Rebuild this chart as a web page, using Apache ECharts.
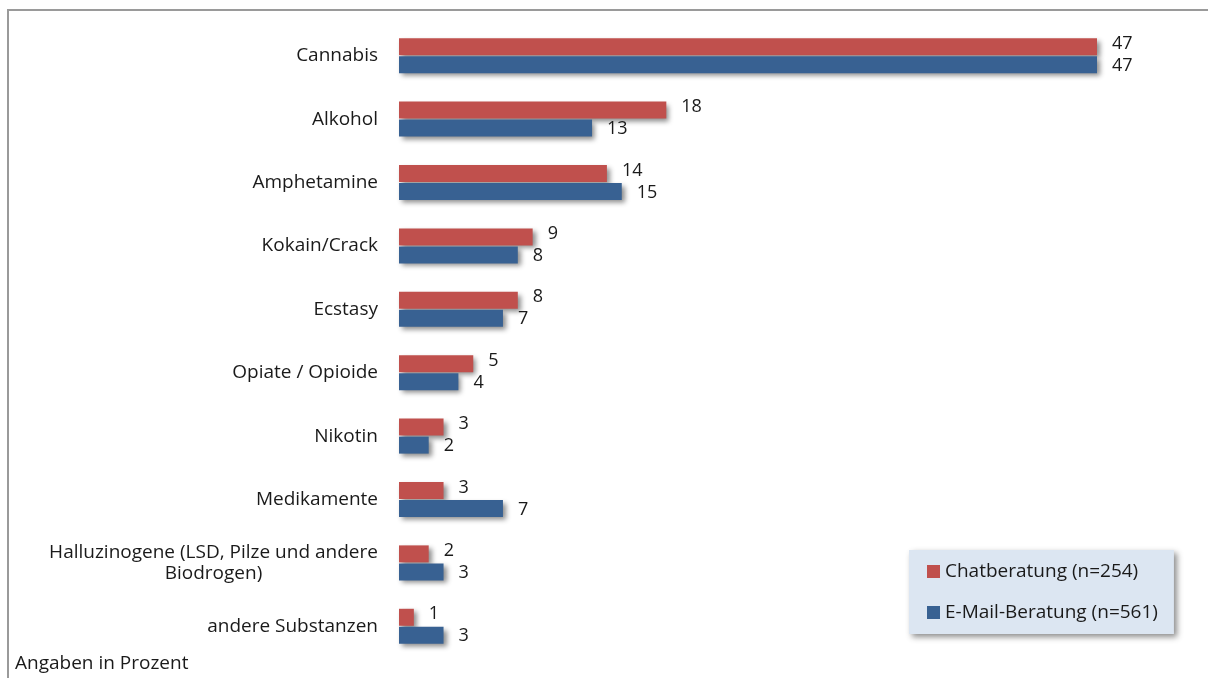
<!DOCTYPE html>
<html>
<head>
<meta charset="utf-8">
<script src="https://cdn.jsdelivr.net/npm/echarts@6/dist/echarts.min.js"></script>
<style>
  html, body { margin: 0; padding: 0; background: #fff; }
  #chart { width: 1208px; height: 678px; }
</style>
</head>
<body>
<div id="chart"></div>
<script>
// Kategorien (von oben nach unten)
var categories = ['Cannabis', 'Alkohol', 'Amphetamine', 'Kokain/Crack', 'Ecstasy',
  'Opiate / Opioide', 'Nikotin', 'Medikamente',
  'Halluzinogene (LSD, Pilze und andere\nBiodrogen)', 'andere Substanzen'];
// Werte in Prozent
var chatValues = [47, 18, 14, 9, 8, 5, 3, 3, 2, 1];
var mailValues = [47, 13, 15, 8, 7, 4, 2, 7, 3, 3];
var seriesNames = ['Chatberatung (n=254)', 'E-Mail-Beratung (n=561)'];

var fontFam = '"Open Sans", "Noto Sans", sans-serif';
var labelSize = 19;
var barShadow = {
  shadowColor: 'rgba(0,0,0,0.45)',
  shadowBlur: 5,
  shadowOffsetX: 3,
  shadowOffsetY: 3
};

// Breite der längsten Zeile messen, damit mehrzeilige Labels zentriert werden
var ctx = document.createElement('canvas').getContext('2d');
ctx.font = labelSize + 'px ' + fontFam;
function textWidth(s) { return Math.ceil(ctx.measureText(s).width); }

var myChart = echarts.init(document.getElementById('chart'));
var option = {
  animation: false,
  backgroundColor: '#fff',
  graphic: [
    {
      type: 'rect',
      shape: { x: 8, y: 10, width: 1260, height: 720 },
      style: { fill: 'none', stroke: '#9a9a9a', lineWidth: 2 },
      z: -1
    },
    {
      type: 'text',
      left: 15,
      top: 654,
      style: { text: 'Angaben in Prozent', font: labelSize + 'px ' + fontFam, fill: '#1a1a1a' }
    }
  ],
  legend: {
    orient: 'vertical',
    left: 909,
    top: 550,
    data: seriesNames,
    itemWidth: 13,
    itemHeight: 13,
    itemGap: 22,
    icon: 'rect',
    padding: [12, 16, 12, 18],
    backgroundColor: '#dce6f2',
    shadowColor: 'rgba(0,0,0,0.45)',
    shadowBlur: 6,
    shadowOffsetX: 3,
    shadowOffsetY: 3,
    textStyle: { fontFamily: fontFam, fontSize: labelSize, color: '#1a1a1a' }
  },
  grid: { left: 399, right: 111, top: 24, bottom: 20, containLabel: false },
  xAxis: {
    type: 'value',
    min: 0,
    max: 47,
    show: false
  },
  yAxis: {
    type: 'category',
    data: categories,
    inverse: true,
    axisLine: { show: false },
    axisTick: { show: false },
    axisLabel: {
      margin: 21,
      fontFamily: fontFam,
      fontSize: labelSize,
      color: '#1a1a1a',
      lineHeight: 21,
      formatter: function (v) {
        if (v.indexOf('\n') < 0) return v;
        var lines = v.split('\n');
        var w = Math.max.apply(null, lines.map(textWidth));
        return lines.map(function (l) { return '{c' + w + '|' + l + '}'; }).join('\n');
      },
      rich: (function () {
        var r = {};
        categories.forEach(function (c) {
          if (c.indexOf('\n') >= 0) {
            var w = Math.max.apply(null, c.split('\n').map(textWidth));
            r['c' + w] = { width: w, align: 'center', fontFamily: fontFam, fontSize: labelSize, color: '#1a1a1a', lineHeight: 21 };
          }
        });
        return r;
      })()
    }
  },
  series: [
    {
      name: seriesNames[0],
      type: 'bar',
      data: chatValues,
      barWidth: 17,
      barGap: '6%',
      itemStyle: Object.assign({ color: '#c0504d' }, barShadow),
      label: {
        show: true,
        position: 'right',
        distance: 15,
        offset: [0, -3],
        fontFamily: fontFam,
        fontSize: 18,
        color: '#1a1a1a'
      }
    },
    {
      name: seriesNames[1],
      type: 'bar',
      data: mailValues,
      barWidth: 17,
      barGap: '6%',
      itemStyle: Object.assign({ color: '#386192' }, barShadow),
      label: {
        show: true,
        position: 'right',
        distance: 15,
        offset: [0, 1],
        fontFamily: fontFam,
        fontSize: 18,
        color: '#1a1a1a'
      }
    }
  ]
};
myChart.setOption(option);
</script>
</body>
</html>
